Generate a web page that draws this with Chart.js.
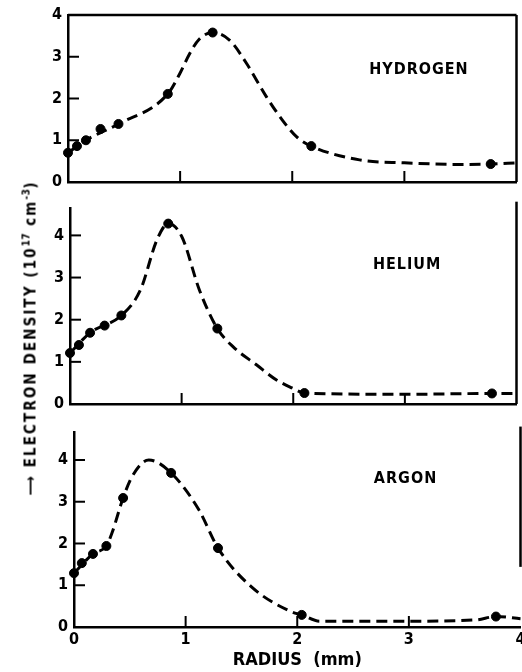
<!DOCTYPE html>
<html>
<head>
<meta charset="utf-8">
<script src="https://cdn.jsdelivr.net/npm/chart.js@4.4.0/dist/chart.umd.min.js"></script>
<style>
  body { margin: 0; background: #fff; }
  #fig { position: relative; width: 522px; height: 672px; overflow: hidden; background: #fff; }
  #fig canvas { position: absolute; left: 0; }
  #ytitle {
    position: absolute; left: 30px; top: 338px;
    transform: translate(-50%, -50%) rotate(-90deg);
    white-space: nowrap; color: #000; letter-spacing: 2.1px;
    font: bold 15px 'DejaVu Sans Condensed', 'DejaVu Sans', sans-serif;
  }
  #ytitle sup { font-size: 10px; letter-spacing: 0.5px; }
</style>
</head>
<body>
<div id="fig">
  <canvas id="hydrogen" width="522" height="200" style="top:0px"></canvas>
  <canvas id="helium" width="522" height="225" style="top:190px"></canvas>
  <canvas id="argon" width="526" height="257" style="top:415px"></canvas>
  <div id="ytitle">&#x27F6; ELECTRON DENSITY (10<sup>17</sup> cm<sup>-3</sup>)</div>
</div>
<script>
// axis ticks
const radiusTicks = [0, 1, 2, 3, 4];
const densityTicks = [0, 1, 2, 3, 4];

// hydrogen: measured points and the drawn dashed curve
const hydrogenR = [0, 0.08, 0.16, 0.29, 0.45, 0.89, 1.29, 2.17, 3.77];
const hydrogenN = [0.7, 0.86, 1.0, 1.27, 1.39, 2.11, 3.58, 0.86, 0.43];
const hydrogenCurveR = [0, 0.16, 0.45, 0.89, 1.0, 1.08, 1.17, 1.29, 1.44, 1.59, 1.77, 1.91, 2.04, 2.17, 2.6, 3.0, 3.5, 3.77, 4.0];
const hydrogenCurveN = [0.7, 1.0, 1.39, 2.11, 2.61, 3.05, 3.42, 3.58, 3.4, 2.85, 2.04, 1.49, 1.08, 0.86, 0.53, 0.46, 0.42, 0.43, 0.46];

// helium
const heliumR = [0, 0.08, 0.18, 0.31, 0.46, 0.88, 1.32, 2.1, 3.78];
const heliumN = [1.21, 1.4, 1.69, 1.86, 2.1, 4.28, 1.79, 0.26, 0.25];
const heliumCurveR = [0, 0.18, 0.46, 0.63, 0.78, 0.88, 1.0, 1.16, 1.32, 1.46, 1.67, 1.85, 1.99, 2.1, 3.0, 3.78, 4.0];
const heliumCurveN = [1.21, 1.69, 2.1, 2.7, 3.9, 4.28, 3.98, 2.7, 1.79, 1.36, 0.93, 0.57, 0.38, 0.26, 0.23, 0.25, 0.25];

// argon
const argonR = [0, 0.07, 0.17, 0.29, 0.44, 0.87, 1.29, 2.04, 3.78];
const argonN = [1.29, 1.53, 1.75, 1.94, 3.09, 3.69, 1.89, 0.29, 0.25];
const argonCurveR = [0, 0.17, 0.29, 0.34, 0.44, 0.52, 0.67, 0.87, 1.12, 1.29, 1.59, 1.95, 2.04, 2.2, 3.0, 3.6, 3.78, 4.0];
const argonCurveN = [1.29, 1.75, 1.94, 2.25, 3.09, 3.6, 4.0, 3.69, 2.8, 1.89, 0.96, 0.36, 0.29, 0.14, 0.14, 0.17, 0.25, 0.2];

const FONT = "'DejaVu Sans Condensed', 'DejaVu Sans', sans-serif";
Chart.defaults.font.family = FONT;
Chart.defaults.font.weight = 'bold';
Chart.defaults.font.size = 16;
Chart.defaults.color = '#000';

const pairs = (xs, ys) => xs.map((v, i) => ({ x: v, y: ys[i] }));

// inward tick marks, open frame pieces and the gas name
const framePlugin = {
  id: 'frame',
  afterDraw(chart, args, o) {
    const { ctx, chartArea: a, scales: { x, y } } = chart;
    const line = (x1, y1, x2, y2) => {
      ctx.beginPath(); ctx.moveTo(x1, y1); ctx.lineTo(x2, y2); ctx.stroke();
    };
    ctx.save();
    ctx.strokeStyle = '#000';
    ctx.lineWidth = 2;
    o.xTicks.forEach(v => {
      const px = x.getPixelForValue(v);
      line(px, a.bottom, px, a.bottom - 11);
    });
    o.yTicks.forEach(v => {
      const py = y.getPixelForValue(v);
      line(a.left, py, a.left + 11, py);
    });
    ctx.lineWidth = 2.5;
    line(a.right, y.getPixelForValue(o.rightFrom), a.right, y.getPixelForValue(o.rightTo));
    if (o.topBorder) line(a.left, a.top, a.right, a.top);
    ctx.fillStyle = '#000';
    ctx.font = 'bold 16px ' + FONT;
    ctx.letterSpacing = '1px';
    ctx.textAlign = 'center';
    ctx.textBaseline = 'middle';
    ctx.fillText(o.label, x.getPixelForValue(o.labelAt[0]), y.getPixelForValue(o.labelAt[1]));
    ctx.restore();
  }
};

const makePanel = (id, curveR, curveN, pointR, pointN, cfg) => {
  return new Chart(document.getElementById(id), {
    type: 'line',
    data: {
      datasets: [
        {
          data: pairs(curveR, curveN),
          borderColor: '#000',
          borderWidth: 3,
          borderDash: [11, 6],
          cubicInterpolationMode: 'monotone',
          pointRadius: 0,
          clip: false
        },
        {
          data: pairs(pointR, pointN),
          showLine: false,
          pointRadius: 4.5,
          pointBackgroundColor: '#000',
          pointBorderColor: '#000',
          clip: false
        }
      ]
    },
    options: {
      responsive: false,
      animation: false,
      devicePixelRatio: 1,
      layout: { padding: { top: cfg.padTop, right: cfg.padRight, left: 0, bottom: 0 } },
      plugins: {
        legend: { display: false },
        tooltip: { enabled: false },
        frame: cfg.frame
      },
      scales: {
        x: {
          type: 'linear',
          min: 0,
          max: 4,
          afterBuildTicks: s => { s.ticks = radiusTicks.map(v => ({ value: v })); },
          afterFit: s => { s.height = cfg.xHeight; s.paddingLeft = 0; s.paddingRight = 0; },
          grid: { display: false, drawTicks: false },
          border: { display: true, color: '#000', width: 2.5 },
          ticks: { display: cfg.showX, padding: 3 },
          title: {
            display: cfg.showX,
            text: 'RADIUS  (mm)',
            font: { size: 18, weight: 'bold' },
            padding: { top: 2, bottom: 1 }
          }
        },
        y: {
          min: 0,
          max: cfg.yMax,
          afterBuildTicks: s => { s.ticks = densityTicks.map(v => ({ value: v })); },
          afterFit: s => { s.width = cfg.yWidth; s.paddingTop = 0; s.paddingBottom = 0; },
          grid: { display: false, drawTicks: false },
          border: { display: true, color: '#000', width: 2.5 },
          ticks: { padding: 6 }
        }
      }
    },
    plugins: [framePlugin]
  });
};

makePanel('hydrogen', hydrogenCurveR, hydrogenCurveN, hydrogenR, hydrogenN, {
  padTop: 15, padRight: 4, xHeight: 18, yWidth: 68, yMax: 4, showX: false,
  frame: { xTicks: [1, 2, 3], yTicks: [1, 2, 3], rightFrom: 4, rightTo: 0, topBorder: true,
           label: 'HYDROGEN', labelAt: [3.13, 2.68] }
});

makePanel('helium', heliumCurveR, heliumCurveN, heliumR, heliumN, {
  padTop: 18, padRight: 4, xHeight: 11, yWidth: 70, yMax: 4.65, showX: false,
  frame: { xTicks: [1, 2, 3], yTicks: [1, 2, 3, 4], rightFrom: 4.8, rightTo: 0, topBorder: false,
           label: 'HELIUM', labelAt: [3.02, 3.29] }
});

makePanel('argon', argonCurveR, argonCurveN, argonR, argonN, {
  padTop: 17, padRight: 0, xHeight: 45, yWidth: 74, yMax: 4.67, showX: true,
  frame: { xTicks: [1, 2, 3], yTicks: [1, 2, 3, 4], rightFrom: 4.8, rightTo: 1.44, topBorder: false,
           label: 'ARGON', labelAt: [2.97, 3.55] }
});
</script>
</body>
</html>
